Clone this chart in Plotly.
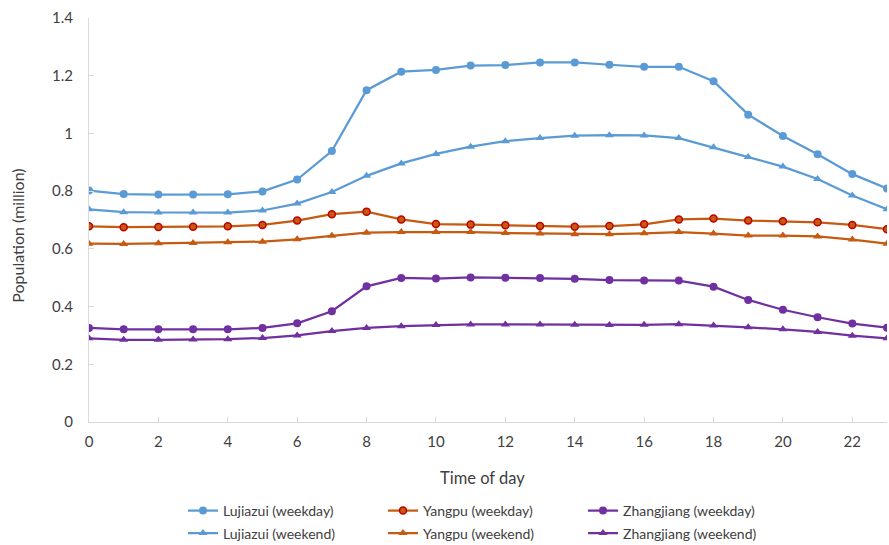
import plotly.graph_objects as go

hours = list(range(24))

lujiazui_weekday = [0.802, 0.790, 0.788, 0.788, 0.789, 0.799, 0.840, 0.939, 1.150, 1.214, 1.220, 1.235,
                    1.237, 1.246, 1.246, 1.238, 1.231, 1.231, 1.181, 1.065, 0.991, 0.928, 0.859, 0.809]
lujiazui_weekend = [0.737, 0.727, 0.726, 0.726, 0.726, 0.733, 0.757, 0.797, 0.853, 0.896, 0.929, 0.954,
                    0.973, 0.984, 0.992, 0.994, 0.993, 0.984, 0.952, 0.918, 0.885, 0.842, 0.785, 0.737]
yangpu_weekday = [0.678, 0.675, 0.676, 0.677, 0.678, 0.683, 0.698, 0.720, 0.729, 0.702, 0.686, 0.684,
                  0.682, 0.679, 0.677, 0.679, 0.685, 0.702, 0.705, 0.698, 0.696, 0.692, 0.683, 0.668]
yangpu_weekend = [0.618, 0.617, 0.619, 0.620, 0.623, 0.625, 0.633, 0.645, 0.656, 0.658, 0.658, 0.658,
                  0.655, 0.653, 0.651, 0.651, 0.654, 0.658, 0.653, 0.646, 0.646, 0.643, 0.632, 0.618]
zhangjiang_weekday = [0.326, 0.321, 0.321, 0.321, 0.321, 0.326, 0.342, 0.384, 0.470, 0.499, 0.497, 0.501,
                      0.500, 0.499, 0.496, 0.492, 0.490, 0.490, 0.469, 0.423, 0.389, 0.363, 0.341, 0.327]
zhangjiang_weekend = [0.290, 0.285, 0.285, 0.286, 0.287, 0.291, 0.300, 0.315, 0.326, 0.332, 0.336, 0.338,
                      0.338, 0.338, 0.337, 0.336, 0.337, 0.339, 0.334, 0.328, 0.321, 0.312, 0.299, 0.290]

x_ticks = list(range(0, 23, 2))
x_ticktext = [str(v) for v in x_ticks]
y_ticks = [0, 0.2, 0.4, 0.6, 0.8, 1.0, 1.2, 1.4]
y_ticktext = ["0", "0.2", "0.4", "0.6", "0.8", "1", "1.2", "1.4"]

BLUE = "#5B9BD5"
ORANGE = "#C55A11"
RED = "#C00000"
PURPLE = "#7030A0"
FONT = "Lato"
TXT = "#404040"

fig = go.Figure()

series = [
    ("Lujiazui (weekday)", lujiazui_weekday, BLUE, "circle", BLUE, "legend"),
    ("Yangpu (weekday)", yangpu_weekday, ORANGE, "circle", RED, "legend"),
    ("Zhangjiang (weekday)", zhangjiang_weekday, PURPLE, "circle", PURPLE, "legend"),
    ("Lujiazui (weekend)", lujiazui_weekend, BLUE, "triangle-up", BLUE, "legend2"),
    ("Yangpu (weekend)", yangpu_weekend, ORANGE, "triangle-up", ORANGE, "legend2"),
    ("Zhangjiang (weekend)", zhangjiang_weekend, PURPLE, "triangle-up", PURPLE, "legend2"),
]

for name, vals, col, sym, edge, leg in series:
    fig.add_trace(go.Scatter(
        x=hours, y=vals, name=name, mode="lines+markers",
        line=dict(color=col, width=2.25),
        marker=dict(symbol=sym, size=7 if edge != col else 8, color=col,
                    line=dict(color=edge, width=1.5 if edge != col else 0)),
        legend=leg,
    ))

W, H = 889, 545
ml, mr, mt, mb = 89, 2, 18, 123
pw, ph = W - ml - mr, H - mt - mb

def px_x(p):
    return (p - ml) / pw

def px_y(p):
    return (H - mb - p) / ph

legend_common = dict(
    orientation="h", entrywidth=155, entrywidthmode="pixels",
    xanchor="left", yanchor="middle", font=dict(family=FONT, size=14, color=TXT),
    bgcolor="rgba(0,0,0,0)", itemclick=False, tracegroupgap=0,
)

fig.update_layout(
    width=W, height=H,
    margin=dict(l=ml, r=mr, t=mt, b=mb, autoexpand=False),
    paper_bgcolor="white", plot_bgcolor="white",
    font=dict(family=FONT, size=15, color=TXT),
    showlegend=True,
    legend=dict(x=px_x(183), y=px_y(511), **legend_common),
    legend2=dict(x=px_x(183), y=px_y(533.5), **legend_common),
    xaxis=dict(
        range=[0, 23], tickvals=x_ticks, ticktext=x_ticktext,
        showline=True, linecolor="#D9D9D9", linewidth=1,
        ticks="inside", ticklen=5, tickcolor="#D9D9D9", tickwidth=1,
        showgrid=False, zeroline=False,
        tickfont=dict(family=FONT, size=15, color=TXT),
        ticklabelstandoff=6,
    ),
    yaxis=dict(
        range=[0, 1.4], tickvals=y_ticks, ticktext=y_ticktext,
        showline=True, linecolor="#D9D9D9", linewidth=1,
        ticks="inside", ticklen=5, tickcolor="#D9D9D9", tickwidth=1,
        showgrid=False, zeroline=False,
        tickfont=dict(family=FONT, size=15, color=TXT),
        ticklabelstandoff=12,
    ),
    annotations=[
        dict(text="Time of day", x=px_x(482), y=px_y(478), xref="paper", yref="paper",
             showarrow=False, xanchor="center", yanchor="middle",
             font=dict(family=FONT, size=16.5, color=TXT)),
        dict(text="Population (million)", x=px_x(16.7), y=px_y(236), xref="paper", yref="paper",
             showarrow=False, xanchor="center", yanchor="middle", textangle=-90,
             font=dict(family=FONT, size=16, color=TXT)),
    ],
)

fig.write_html("out.html")
